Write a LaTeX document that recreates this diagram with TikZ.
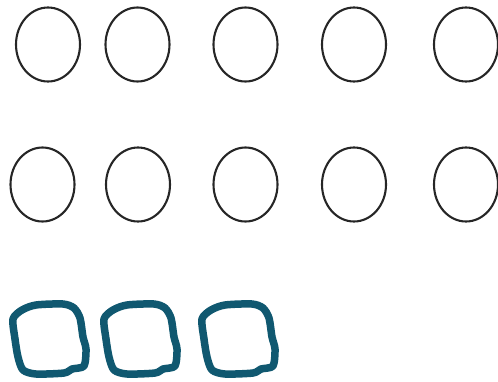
\documentclass[tikz,border=0pt]{standalone}
\usepackage{tikz}
\usetikzlibrary{shapes.geometric}
\definecolor{inkteal}{RGB}{16,88,112}
\tikzset{
  ring/.style={draw=black!85,ellipse,line width=2.1pt,
               minimum width=64pt,minimum height=74pt,inner sep=0pt},
  blob/.style={draw=inkteal,line width=7.5pt,line join=round},
}
\begin{document}
\begin{tikzpicture}[x=1pt,y=-1pt]
  \useasboundingbox (0,0) rectangle (498,381);
  % top row
  \node[ring] (a1) at (48,44.5) {};
  \node[ring] (a2) at (137.5,44.5) {};
  \node[ring] (a3) at (245.5,44.5) {};
  \node[ring] (a4) at (354,44.5) {};
  \node[ring] (a5) at (466,44.5) {};
  % middle row
  \node[ring] (b1) at (42.5,184.5) {};
  \node[ring] (b2) at (138,184.5) {};
  \node[ring] (b3) at (245.5,184.5) {};
  \node[ring] (b4) at (354,184.5) {};
  \node[ring] (b5) at (466,184.5) {};
  % hand drawn squares
  \foreach \dx in {8,99,197}{
    \draw[blob,shift={(\dx,299)}] plot[smooth cycle,tension=0.45] coordinates
      {(5,20) (14,11) (28,6) (55,5) (66,9) (72,19) (75,38) (78,50)
       (76,67) (64,70) (56,74) (28,75) (15,71) (10,58) (7,40)};
  }
\end{tikzpicture}
\end{document}
